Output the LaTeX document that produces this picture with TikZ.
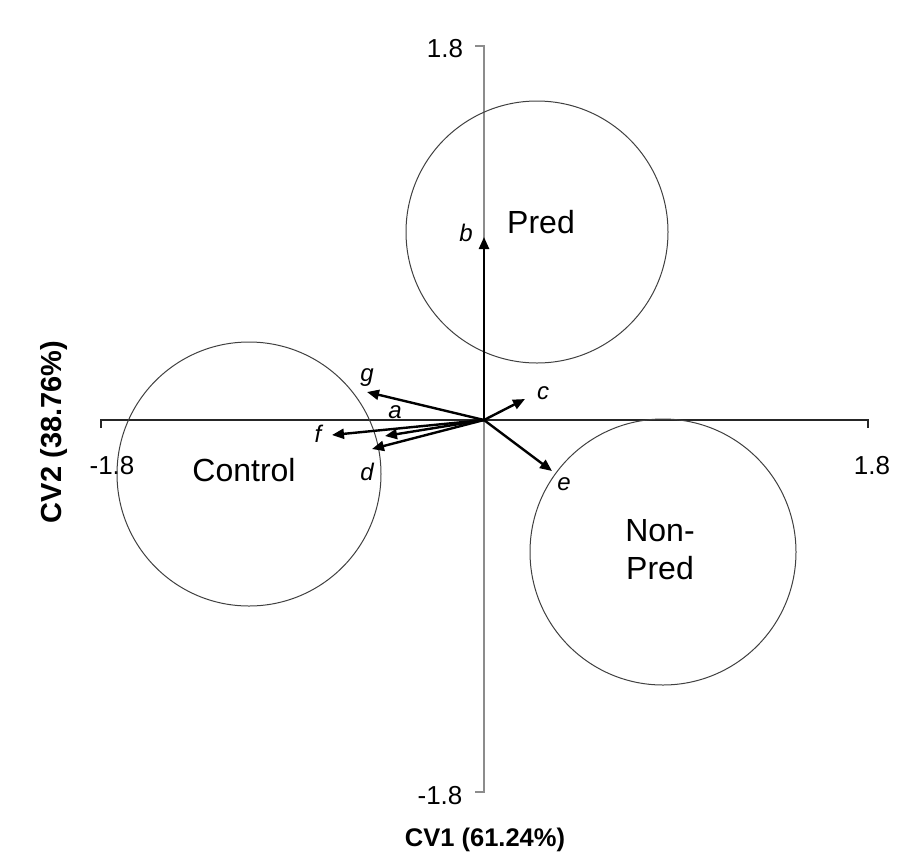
\documentclass[tikz,border=0pt]{standalone}
\usepackage{fontspec}
\setmainfont{Liberation Sans}
\usetikzlibrary{arrows.meta}
\begin{document}
\begin{tikzpicture}[x=1pt,y=-1pt,
  vec/.style={line width=2.4pt,-{Triangle[length=12pt,width=10pt]}},
  grp/.style={draw=black!75,line width=1pt},
  grplabel/.style={font=\fontsize{32}{38}\selectfont,align=center},
  tick/.style={font=\fontsize{26}{30}\selectfont},
  varlabel/.style={font=\fontsize{24}{28}\selectfont\itshape},
  axlabel/.style={font=\fontsize{25.5}{30}\selectfont\bfseries}]
  \useasboundingbox (0,0) rectangle (902,860);
  % axes
  \draw[line width=1.6pt,black!85] (101,428) -- (101,420) -- (868,420) -- (868,428);
  \draw[line width=2pt,black!45] (475,46) -- (484,46) -- (484,792) -- (475,792);
  \node[tick] (ytop) at (445,49) {1.8};
  \node[tick] (ybot) at (440,796) {-1.8};
  \node[tick] (xleft) at (112,466) {-1.8};
  \node[tick] (xright) at (872,466) {1.8};
  \node[axlabel] (cv1) at (485,840) {CV1 (61.24\%)};
  \node[axlabel,font=\fontsize{29}{34}\selectfont\bfseries,rotate=90] (cv2) at (54,432) {CV2 (38.76\%)};
  % groups
  \draw[grp] (537,232) circle (131);
  \draw[grp] (249,474) circle (132);
  \draw[grp] (663,552) circle (133);
  \node[grplabel] (pred) at (541,222) {Pred};
  \node[grplabel] (control) at (244,470) {Control};
  \node[grplabel] (nonpred) at (660,550) {Non-\\Pred};
  % variable vectors
  \coordinate (o) at (484,420);
  \coordinate (tb) at (484,237);
  \coordinate (tc) at (525,399);
  \coordinate (tg) at (367,392);
  \coordinate (ta) at (385,436);
  \coordinate (tf) at (332,435);
  \coordinate (td) at (372,449);
  \coordinate (te) at (552,471);
  \draw[vec] (o) -- (tb);
  \draw[vec] (o) -- (tc);
  \draw[vec] (o) -- (tg);
  \draw[vec] (o) -- (ta);
  \draw[vec] (o) -- (tf);
  \draw[vec] (o) -- (td);
  \draw[vec] (o) -- (te);
  \node[varlabel] (lb) at (466,233) {b};
  \node[varlabel] (lc) at (543,393) {c};
  \node[varlabel] (lg) at (367,378) {g};
  \node[varlabel] (la) at (395,412) {a};
  \node[varlabel] (lf) at (318,434) {f};
  \node[varlabel] (ld) at (367,472) {d};
  \node[varlabel] (le) at (564,484) {e};
\end{tikzpicture}
\end{document}
